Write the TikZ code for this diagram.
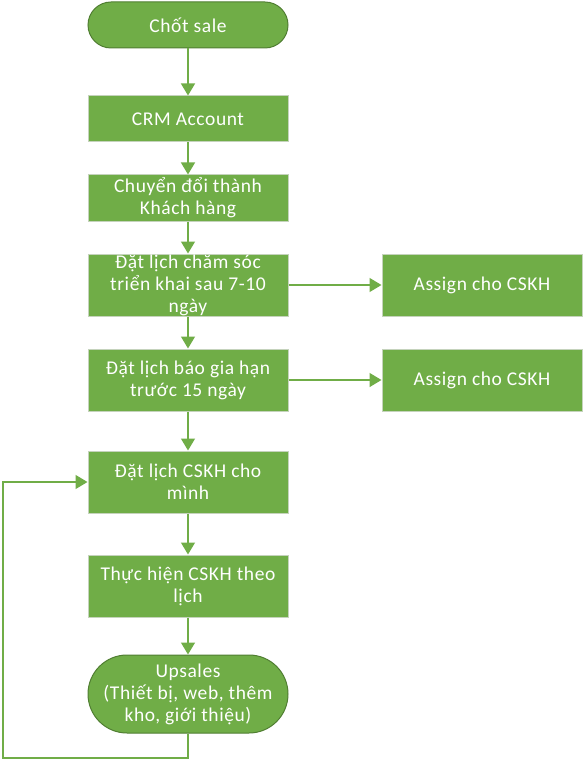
\documentclass[tikz,border=0pt]{standalone}
\usepackage{fontspec}
\setmainfont{Carlito}[LetterSpace=3]
\usetikzlibrary{arrows.meta}
\definecolor{gfill}{HTML}{70AD47}
\definecolor{gline}{HTML}{70AD47}
\definecolor{boxline}{HTML}{C5D3BC}
\definecolor{termline}{HTML}{507E32}
\begin{document}
\begin{tikzpicture}[x=1pt,y=-1pt,
  box/.style={draw=boxline, fill=gfill, line width=1pt, minimum width=200pt,
    minimum height=62pt, align=center, text=white, inner sep=0pt,
    font=\fontsize{19.5}{22}\selectfont},
  term/.style={box, draw=termline},
  conn/.style={draw=gline, line width=1.5pt, -{Triangle[width=14pt,length=12pt]}},
  plain/.style={draw=gline, line width=1.5pt}
]
\useasboundingbox (0,0) rectangle (584,762);
\node[term, minimum height=46pt, rounded corners=23pt] (a) at (188,25) {Chốt sale};
\node[box, minimum height=46pt] (b) at (188,119) {CRM Account};
\node[box, minimum height=46pt] (c) at (188,198) {Chuyển đổi thành\\Khách hàng};
\node[box] (d) at (188,285) {Đặt lịch chăm sóc\\triển khai sau 7-10\\ngày};
\node[box] (e) at (482,285) {Assign cho CSKH};
\node[box] (f) at (188,380) {Đặt lịch báo gia hạn\\trước 15 ngày};
\node[box] (g) at (482,380) {Assign cho CSKH};
\node[box] (h) at (188,482) {Đặt lịch CSKH cho\\mình};
\node[box] (i) at (188,586) {Thực hiện CSKH theo\\lịch};
\node[term, minimum height=78pt, rounded corners=39pt] (j) at (188,694) {Upsales\\(Thiết bị, web, thêm\\kho, giới thiệu)};
\coordinate (l1) at (188,758);
\coordinate (l2) at (3,758);
\coordinate (l3) at (3,482);
\draw[conn] (a) -- (b);
\draw[conn] (b) -- (c);
\draw[conn] (c) -- (d);
\draw[conn] (d) -- (f);
\draw[conn] (f) -- (h);
\draw[conn] (h) -- (i);
\draw[conn] (i) -- (j);
\draw[conn] (d) -- (e);
\draw[conn] (f) -- (g);
\draw[conn] (j.south) -- (l1) -- (l2) -- (l3) -- (h.west);
\end{tikzpicture}
\end{document}
